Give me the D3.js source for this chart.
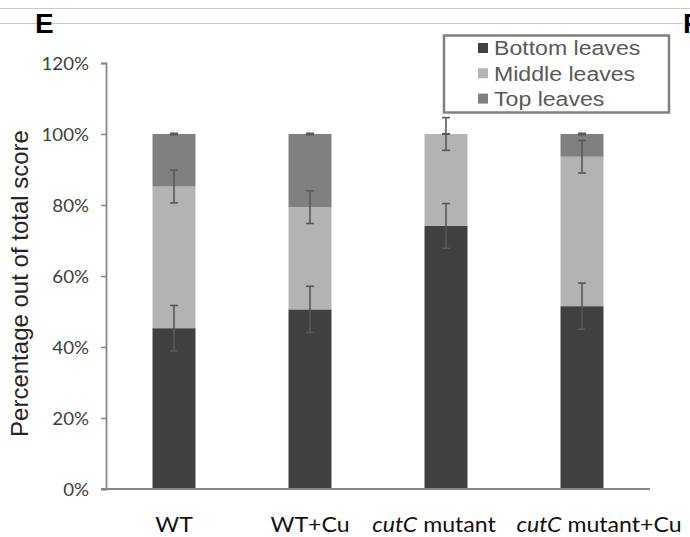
<!DOCTYPE html>
<html>
<head>
<meta charset="utf-8">
<script src="https://cdn.jsdelivr.net/npm/d3@7"></script>
<style>
  html, body { margin: 0; padding: 0; background: #fff; }
  svg { display: block; }
</style>
</head>
<body>
<svg id="chart" width="690" height="537"></svg>
<script>
// Share of total score contributed by each leaf position
const categories = ["WT", "WT+Cu", "cutC mutant", "cutC mutant+Cu"];
const bottomLeaves = [45.3, 50.6, 74.1, 51.5];
const middleLeaves = [39.9, 28.8, 25.9, 42.1];
const topLeaves = [14.8, 20.6, 0, 6.4];
const bottomErr = [6.4, 6.5, 6.3, 6.5];
const middleErr = [4.6, 4.6, 4.6, 4.6];
const topErr = [0.2, 0.2, 0, 0.2];
const yTicks = [0, 20, 40, 60, 80, 100, 120];
const seriesNames = ["Bottom leaves", "Middle leaves", "Top leaves"];

const colors = ["#404040", "#b3b3b3", "#808080"];
const seriesErr = [bottomErr, middleErr, topErr];

const svg = d3.select("#chart");
const labelFont = "Lato, 'Open Sans', sans-serif";
const legendFont = "'Liberation Sans', Arial, sans-serif";
const SX = 1.1; // horizontal text stretch

// place a text at (x, y) with a slight horizontal stretch
function placeText(sel, x, y) {
  return sel.attr("x", 0).attr("y", 0)
    .attr("transform", `translate(${x},${y}) scale(${SX},1)`);
}

// panel header rules and letters
svg.append("line").attr("x1", 0).attr("x2", 690).attr("y1", 8.5).attr("y2", 8.5)
  .attr("stroke", "#c8c8c8").attr("stroke-width", 1);
svg.append("line").attr("x1", 0).attr("x2", 683).attr("y1", 23.5).attr("y2", 23.5)
  .attr("stroke", "#c8c8c8").attr("stroke-width", 1);
svg.append("text").attr("x", 35).attr("y", 33).text("E")
  .attr("font-family", legendFont).attr("font-weight", "bold").attr("font-size", 28).attr("fill", "#000");
svg.append("text").attr("x", 683).attr("y", 33).text("F")
  .attr("font-family", legendFont).attr("font-weight", "bold").attr("font-size", 28).attr("fill", "#000");

const x = d3.scaleBand().domain(categories).range([106, 650])
  .paddingInner(0.684).paddingOuter(0.342);
const y = d3.scaleLinear().domain([0, 120]).range([489, 63]);

// stacked segments
const stackData = categories.map((c, i) => ({
  cat: c, b: bottomLeaves[i], m: middleLeaves[i], t: topLeaves[i]
}));
const stack = d3.stack().keys(["b", "m", "t"])(stackData);

svg.append("g").selectAll("g").data(stack).join("g")
  .attr("fill", (d, i) => colors[i])
  .selectAll("rect").data(d => d).join("rect")
  .attr("x", d => x(d.data.cat))
  .attr("width", x.bandwidth())
  .attr("y", d => y(d[1]))
  .attr("height", d => y(d[0]) - y(d[1]));

// error bars at the top of each segment
const errG = svg.append("g").attr("stroke", "#595959").attr("stroke-width", 1.6);
stack.forEach((layer, si) => {
  layer.forEach((d, ci) => {
    const cx = x(d.data.cat) + x.bandwidth() / 2;
    const e = seriesErr[si][ci];
    const y0 = y(d[1] - e), y1 = y(d[1] + e);
    errG.append("line").attr("x1", cx).attr("x2", cx).attr("y1", y0).attr("y2", y1);
    errG.append("line").attr("x1", cx - 4).attr("x2", cx + 4).attr("y1", y0).attr("y2", y0);
    errG.append("line").attr("x1", cx - 4).attr("x2", cx + 4).attr("y1", y1).attr("y2", y1);
  });
});

// y axis
const yAxis = d3.axisLeft(y).tickValues(yTicks).tickFormat(d => d + "%")
  .tickSize(5).tickPadding(12);
const yg = svg.append("g").attr("transform", "translate(106,0)").call(yAxis);
yg.select(".domain").attr("stroke", "#868686").attr("stroke-width", 1.8);
yg.selectAll(".tick line").attr("stroke", "#868686").attr("stroke-width", 1.5);
yg.selectAll(".tick text")
  .attr("font-family", labelFont).attr("font-size", 17).attr("fill", "#404040")
  .attr("dy", null).attr("dominant-baseline", "central")
  .attr("transform", `translate(-17,0) scale(${SX},1)`).attr("x", 0);

// x axis baseline
svg.append("line").attr("x1", 101).attr("x2", 650).attr("y1", y(0)).attr("y2", y(0))
  .attr("stroke", "#868686").attr("stroke-width", 1.8);

// category labels, nudged apart where the long names would crowd
const labelNudge = [0, 0, -12, 17];
const xl = svg.append("g").selectAll("text").data(categories).join("text")
  .attr("text-anchor", "middle")
  .attr("font-family", labelFont).attr("font-size", 21).attr("fill", "#111");
xl.each(function(d, i) {
  const t = d3.select(this);
  placeText(t, x(d) + x.bandwidth() / 2 + labelNudge[i], 532);
  if (d.startsWith("cutC")) {
    t.append("tspan").attr("font-style", "italic").text("cutC");
    t.append("tspan").text(d.slice(4));
  } else {
    t.text(d);
  }
});

// y axis title
svg.append("text")
  .attr("transform", `translate(28,283.5) rotate(-90)`)
  .attr("text-anchor", "middle")
  .attr("font-family", legendFont).attr("font-size", 24).attr("fill", "#262626")
  .text("Percentage out of total score");

// legend
const lg = svg.append("g");
lg.append("rect").attr("x", 444).attr("y", 35.5).attr("width", 225).attr("height", 77)
  .attr("fill", "#fff").attr("stroke", "#808080").attr("stroke-width", 2.5);
seriesNames.forEach((n, i) => {
  const cy = 48 + i * 25.3;
  lg.append("rect").attr("x", 478).attr("y", cy - 5).attr("width", 10).attr("height", 10)
    .attr("fill", colors[i]);
  placeText(lg.append("text"), 494, cy + 7.3).text(n)
    .attr("font-family", legendFont).attr("font-size", 21).attr("fill", "#595959");
});
</script>
</body>
</html>
